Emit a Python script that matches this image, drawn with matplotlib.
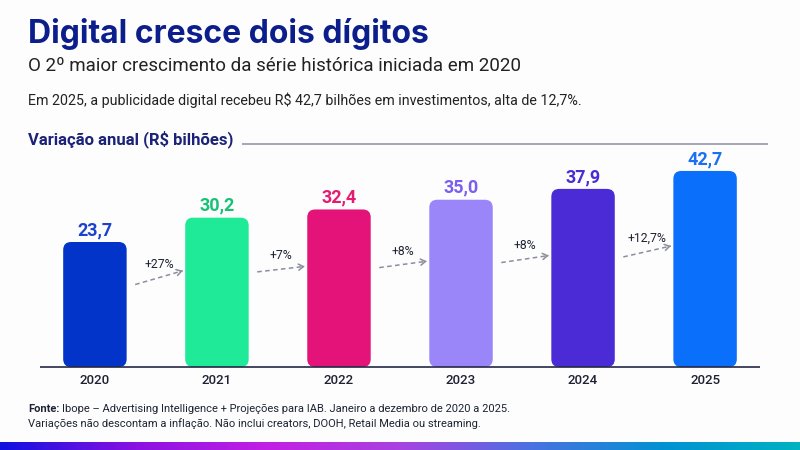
import numpy as np
import matplotlib.pyplot as plt
from matplotlib.patches import FancyBboxPatch
from matplotlib.colors import LinearSegmentedColormap

years = ['2020', '2021', '2022', '2023', '2024', '2025']
values = [23.7, 30.2, 32.4, 35.0, 37.9, 42.7]
value_labels = ['23,7', '30,2', '32,4', '35,0', '37,9', '42,7']
growth_labels = ['+27%', '+7%', '+8%', '+8%', '+12,7%']

bar_colors = ['#0334c9', '#1fea98', '#e3137a', '#9b86f9', '#4a2bd6', '#0a6ffb']
label_colors = ['#1b42c8', '#17c277', '#e31b72', '#7a5ef0', '#4a2bd6', '#1a70f2']

navy = '#0b1e8c'
dark = '#1e2233'

plt.rcParams['font.family'] = ['Roboto', 'DejaVu Sans']

fig = plt.figure(figsize=(8, 4.5), dpi=100)
fig.patch.set_facecolor('#fdfdfd')

# header texts
fig.text(28/800, 1 - 34/450, 'Digital cresce dois dígitos', fontsize=23, fontweight='bold',
         color=navy, va='center', ha='left', family=['Inter', 'DejaVu Sans'])
fig.text(28/800, 1 - 66/450, 'O 2º maior crescimento da série histórica iniciada em 2020',
         fontsize=13.5, color='#222222', va='center', ha='left')
fig.text(28/800, 1 - 100/450,
         'Em 2025, a publicidade digital recebeu R$ 42,7 bilhões em investimentos, alta de 12,7%.',
         fontsize=10.3, color='#222222', va='center', ha='left')
fig.text(28/800, 1 - 139/450, 'Variação anual (R$ bilhões)', fontsize=12, fontweight='bold',
         color='#1a2377', va='center', ha='left')
fig.add_artist(plt.Line2D([243/800, 767/800], [1 - 144/450, 1 - 144/450],
                          color='#a3a6b6', lw=1.4, transform=fig.transFigure))

# footer
fonte = fig.text(28/800, 1 - 409/450, 'Fonte:', fontsize=8, fontweight='bold', color=dark,
                 va='center', ha='left')
r = fig.canvas.get_renderer()
fx = fonte.get_window_extent(r).x1 + 3
fig.text(fx/800, 1 - 409/450,
         'Ibope – Advertising Intelligence + Projeções para IAB. Janeiro a dezembro de 2020 a 2025.',
         fontsize=8, color=dark, va='center', ha='left')
fig.text(28/800, 1 - 424/450,
         'Variações não descontam a inflação. Não inclui creators, DOOH, Retail Media ou streaming.',
         fontsize=8, color=dark, va='center', ha='left')

# gradient strip at the bottom
gax = fig.add_axes([0, 0, 1, 8/450])
grad = LinearSegmentedColormap.from_list('strip', ['#1010e0', '#8a12e2', '#c21fe4', '#a842e0',
                                                   '#4a72e0', '#0092d2', '#00b2c2'])
gax.imshow(np.linspace(0, 1, 400)[None, :], aspect='auto', cmap=grad)
gax.axis('off')

# chart area
ax = fig.add_axes([40/800, 83/450, 720/800, 217/450])
ax.set_facecolor('none')
x = np.arange(len(years))
ymin, ymax = -9.73, 48.3
ax.set_xlim(-0.45, len(years) - 0.55)
ax.set_ylim(ymin, ymax)
ax.axis('off')

w_px, h_px = 720, 217
aspect = ((ymax - ymin) / h_px) / ((len(years) - 0.1) / w_px)
bw = 0.52
for i, v in enumerate(values):
    p = FancyBboxPatch((x[i] - bw/2, ymin), bw, v - ymin,
                       boxstyle='round,pad=0,rounding_size=0.065',
                       mutation_aspect=aspect, fc=bar_colors[i], ec='none', zorder=2)
    ax.add_patch(p)
    ax.annotate(value_labels[i], (x[i], v), xytext=(0, 5), textcoords='offset points',
                ha='center', va='baseline', fontsize=13, fontweight='bold', color=label_colors[i])
    ax.annotate(years[i], (x[i], ymin), xytext=(0, -10), textcoords='offset points',
                ha='center', va='center', fontsize=9.5, fontweight='medium', color=dark,
                annotation_clip=False)

ax.plot([-0.45, len(years) - 0.55], [ymin, ymin], color='#232845', lw=1.2, zorder=3,
        clip_on=False, solid_capstyle='butt')

# growth arrows
for i, g in enumerate(growth_labels):
    x0, x1 = x[i] + 0.33, x[i] + 0.72
    y0, y1 = 0.52 * values[i], 0.53 * values[i + 1]
    ax.plot([x0, x1], [y0, y1], color='#8b8e9c', lw=1.1, ls=(0, (3, 2.2)), zorder=2)
    ax.annotate('', xy=(x1, y1), xytext=(x1 - 0.02, y1 - 0.02 * (y1 - y0) / 0.39),
                arrowprops=dict(arrowstyle='->,head_length=0.35,head_width=0.22',
                                color='#8b8e9c', lw=1.1))
    ax.annotate(g, ((x0 + x1) / 2, (y0 + y1) / 2), xytext=(0, 9.5), textcoords='offset points',
                ha='center', va='center', fontsize=8.8, color=dark)

fig.savefig('out.png', dpi=100, facecolor=fig.get_facecolor())
